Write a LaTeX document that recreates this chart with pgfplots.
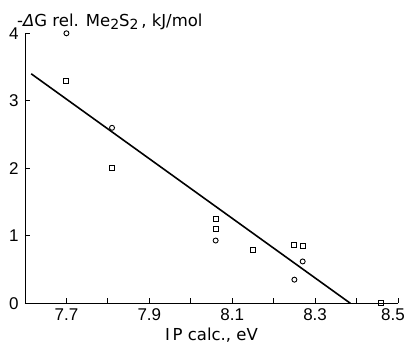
\documentclass[border=0pt]{standalone}
\usepackage{pgfplots}
\pgfplotsset{compat=1.18}
\usepackage{fontspec}
\setmainfont{Liberation Sans}
\newfontfamily\labelfont{DejaVu Sans}
\begin{document}
\begin{tikzpicture}
\begin{axis}[
  scale only axis, width=373pt, height=270pt,
  xmin=7.6, xmax=8.5, ymin=0, ymax=4,
  axis lines=left,
  axis line style={-, line width=0.9pt},
  xtick={7.7,7.8,7.9,8.0,8.1,8.2,8.3,8.4},
  xticklabels={7.7,,7.9,,8.1,,8.3,},
  extra x ticks={8.5},
  extra x tick labels={8.5},
  extra x tick style={xticklabel style={xshift=-5pt}},
  ytick={0,1,2,3,4},
  tick align=inside, major tick length=5pt,
  tick style={black, line width=0.9pt},
  /pgf/number format/assume math mode=true,
  ticklabel style={font=\fontsize{17}{17}\selectfont},
  xticklabel style={yshift=-1.5pt},
  yticklabel style={xshift=-3pt},
  xlabel={I\,P calc., eV},
  xlabel style={font=\labelfont\fontsize{16.5}{16.5}\selectfont, yshift=-1pt},
  clip=false,
]
\addplot[line width=1.6pt, no markers] coordinates {(7.615,3.40) (8.385,0)};
\addplot[only marks, mark=o, mark size=2.5pt, mark options={line width=0.9pt, fill=white}] coordinates {
 (7.70,4.00) (7.81,2.60) (8.06,0.93) (8.25,0.35) (8.27,0.62)
};
\addplot[only marks, mark=square, mark size=2.5pt, mark options={line width=0.9pt, fill=white}] coordinates {
 (7.70,3.29) (7.81,2.00) (8.06,1.25) (8.06,1.10) (8.15,0.79) (8.25,0.87) (8.27,0.845) (8.46,0.00)
};
\node[anchor=base west, font=\labelfont\fontsize{16.5}{16.5}\selectfont, inner sep=0pt] at ([xshift=-8pt,yshift=7pt]rel axis cs:0,1)
  {-{\itshape Δ}G rel. Me\raisebox{-0.35ex}{\fontsize{14}{14}\selectfont 2}S\raisebox{-0.35ex}{\fontsize{14}{14}\selectfont 2}\,, kJ/mol};
\end{axis}
\pgfresetboundingbox
\useasboundingbox ([xshift=-25pt,yshift=-46.7pt]current axis.south west) rectangle ([xshift=9pt,yshift=33.3pt]current axis.north east);
\end{tikzpicture}
\end{document}
